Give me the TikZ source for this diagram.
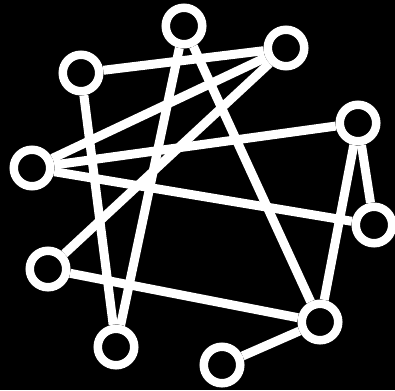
\documentclass[tikz,border=0pt]{standalone}
\begin{document}
\begin{tikzpicture}[x=1pt,y=-1pt,
  vtx/.style={circle,draw=white,fill=black,line width=8.5pt,minimum size=36.5pt,inner sep=0pt},
  edge/.style={draw=white,line width=9pt}]
\fill[black] (0,0) rectangle (395,390);
\useasboundingbox (0,0) rectangle (395,390);
\node[vtx] (n1) at (184,26) {};
\node[vtx] (n2) at (286,48) {};
\node[vtx] (n3) at (81,73) {};
\node[vtx] (n4) at (358,123) {};
\node[vtx] (n5) at (32,168) {};
\node[vtx] (n6) at (374,225) {};
\node[vtx] (n7) at (48,269) {};
\node[vtx] (n8) at (320,322) {};
\node[vtx] (n9) at (116,347) {};
\node[vtx] (n10) at (222,365) {};
\path[edge] (n1) -- (n9);
\path[edge] (n1) -- (n8);
\path[edge] (n2) -- (n3);
\path[edge] (n2) -- (n5);
\path[edge] (n2) -- (n7);
\path[edge] (n3) -- (n9);
\path[edge] (n4) -- (n5);
\path[edge] (n4) -- (n8);
\path[edge] (n4) -- (n6);
\path[edge] (n5) -- (n6);
\path[edge] (n7) -- (n8);
\path[edge] (n8) -- (n10);
\end{tikzpicture}
\end{document}
